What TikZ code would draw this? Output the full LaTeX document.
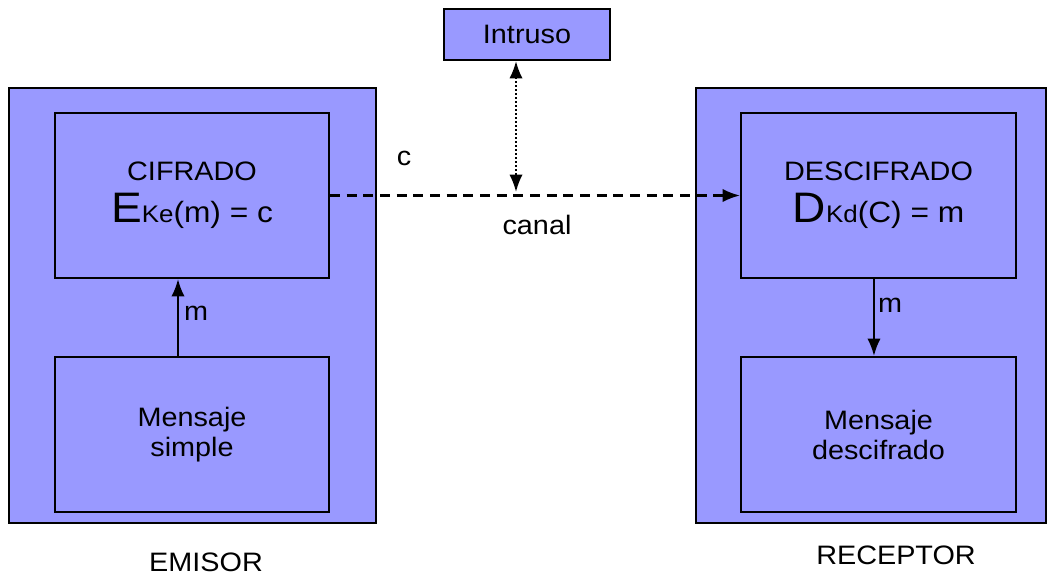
\documentclass[tikz,border=0pt]{standalone}
\usepackage{fontspec}
\setmainfont[FakeStretch=1.08]{Liberation Sans}
\usetikzlibrary{arrows.meta}
\definecolor{caja}{RGB}{153,153,255}

\begin{document}
\begin{tikzpicture}[x=0.75pt,y=-0.75pt,line width=1.6pt,
	bloque/.style={draw=black,fill=caja,rectangle,inner sep=0pt,align=center,font=\fontsize{20}{22.5}\selectfont},
	texto/.style={inner sep=0pt,font=\fontsize{20}{22.5}\selectfont},
	punta/.style={-{Latex[length=13pt,width=10pt]}}]
	\useasboundingbox (0,0) rectangle (1051,577);
	% contenedores
	\node [bloque,minimum width=275.25pt,minimum height=326.25pt] (emisor) at (192.5,305.5) {};
	\node [bloque,minimum width=262.5pt,minimum height=326.25pt] (receptor) at (871,305.5) {};
	% bloques internos
	\node [bloque,minimum width=205.5pt,minimum height=123.75pt] (cifrado) at (192,195.5)
		{CIFRADO\\[9pt]{\fontsize{32}{34}\selectfont E}{\fontsize{18}{20}\selectfont Ke}{\fontsize{22}{24}\selectfont(m) = c}};
	\node [bloque,minimum width=205.5pt,minimum height=116.25pt] (simple) at (192,434.5) {Mensaje\\simple};
	\node [bloque,minimum width=206.25pt,minimum height=123.75pt] (descifrado) at (878.5,195.5)
		{DESCIFRADO\\[9pt]{\fontsize{32}{34}\selectfont D}{\fontsize{18}{20}\selectfont Kd}{\fontsize{22}{24}\selectfont(C) = m}};
	\node [bloque,minimum width=206.25pt,minimum height=116.25pt] (descif) at (878.5,434.5) {Mensaje\\descifrado};
	\node [bloque,minimum width=124.5pt,minimum height=38.25pt] (intruso) at (527,34.5) {Intruso};
	\coordinate (canal) at (516,192);
	% conexiones
	\draw [punta,dash pattern=on 7.5pt off 5pt] (cifrado.east) -- (descifrado.west);
	\draw [{Latex[length=13pt,width=10pt]}-{Latex[length=13pt,width=10pt]},dash pattern=on 1.5pt off 1.5pt] ([xshift=-8.25pt]intruso.south) -- (canal);
	\draw [punta] ([xshift=-10.5pt]simple.north) -- ([xshift=-10.5pt]cifrado.south);
	\draw [punta] ([xshift=-3.4pt]descifrado.south) -- ([xshift=-3.4pt]descif.north);
	% etiquetas
	\node [texto] (lc) at (404,158) {c};
	\node [texto] (lcanal) at (537,225) {canal};
	\node [texto] (lm1) at (196,313) {m};
	\node [texto] (lm2) at (890,305) {m};
	\node [texto] (lemisor) at (206,562) {EMISOR};
	\node [texto] (lreceptor) at (896,555) {RECEPTOR};
\end{tikzpicture}
\end{document}
